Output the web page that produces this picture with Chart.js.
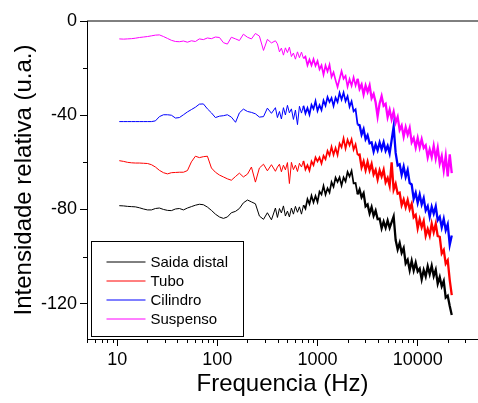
<!DOCTYPE html>
<html>
<head>
<meta charset="utf-8">
<script src="https://cdn.jsdelivr.net/npm/chart.js@4/dist/chart.umd.min.js"></script>
<style>
  body { margin: 0; background: #fff; }
  canvas { display: block; }
</style>
</head>
<body>
<canvas id="espectro" width="478" height="403"></canvas>
<script>
// frequencias (Hz) comuns as quatro curvas
const freqHz = [10.5, 11.6, 12.7, 13.9, 15.2, 16.7, 18.3, 20.1, 22, 24.1,
  26.4, 29, 31.8, 34.8, 38.2, 41.8, 45.9, 50.3, 55.1, 60.4,
  66.2, 72.6, 79.6, 87.3, 95.7, 105, 115, 126, 138, 152,
  166, 182, 200, 219, 240, 263, 289, 316, 347, 380,
  398, 417, 436, 457, 478, 501, 524, 549, 575, 602,
  631, 660, 692, 724, 758, 794, 831, 871, 912, 955,
  1000, 1047, 1096, 1148, 1202, 1259, 1318, 1380, 1445, 1514,
  1585, 1660, 1738, 1820, 1905, 1995, 2089, 2188, 2291, 2399,
  2512, 2630, 2754, 2884, 3020, 3162, 3311, 3467, 3631, 3802,
  3981, 4169, 4365, 4571, 4786, 5012, 5248, 5495, 5754, 6026,
  6310, 6607, 6918, 7244, 7586, 7943, 8318, 8710, 9120, 9550,
  10000, 10470, 10960, 11480, 12020, 12590, 13180, 13800, 14450, 15140,
  15850, 16600, 17380, 18200, 19050, 19950, 20890, 21880];

const saidaDistal = [-78.4, -78.5, -78.7, -78.8, -78.9, -79.3, -79.8, -80.2, -80.2, -79.6,
  -79.4, -80.0, -80.4, -80.5, -79.8, -79.6, -80.2, -79.4, -78.8, -78.2,
  -77.8, -78.0, -79.0, -80.4, -82.0, -83.2, -83.8, -83.2, -81.4, -80.8,
  -79.6, -77.2, -76.0, -76.8, -77.6, -82.8, -84.2, -81.4, -84.4, -79.4,
  -83.4, -79.6, -81.5, -78.5, -82.8, -80.7, -83.2, -79.4, -82.0, -78.7,
  -81.2, -78.9, -82.0, -78.2, -79.7, -75.6, -77.7, -74.2, -77.0, -74.3,
  -76.8, -72.4, -73.6, -70.0, -73.7, -71.0, -72.8, -68.4, -70.4, -66.5,
  -68.3, -66.4, -69.8, -66.4, -68.1, -64.1, -66.0, -63.6, -68.9, -68.8,
  -73.6, -71.6, -74.8, -73.1, -78.7, -77.9, -81.7, -79.0, -82.7, -80.5,
  -84.1, -83.9, -88.0, -85.2, -87.8, -84.7, -87.8, -85.4, -83.0, -93.0,
  -97.0, -94.2, -98.4, -96.4, -102.9, -101.4, -105.8, -101.8, -105.9, -102.6,
  -106.3, -105.1, -109.7, -105.7, -108.5, -104.1, -107.5, -103.9, -108.3, -105.6,
  -111.5, -108.7, -112.6, -110.4, -117.4, -116.6, -121.0, -124.8];

const tubo = [-59.3, -59.6, -60.0, -60.2, -60.3, -60.3, -60.4, -60.5, -61.0, -62.0,
  -63.4, -64.4, -64.9, -64.4, -64.3, -64.2, -64.2, -63.5, -59.8, -57.4,
  -58.0, -57.6, -57.4, -62.4, -64.2, -65.4, -66.2, -67.0, -67.6, -66.0,
  -64.6, -66.2, -65.0, -62.0, -68.4, -62.4, -60.8, -63.6, -61.0, -63.8,
  -62.0, -60.8, -64.0, -61.2, -63.2, -60.1, -69.0, -60.0, -63.1, -61.2,
  -63.9, -60.4, -62.0, -59.4, -63.0, -61.2, -63.5, -59.6, -61.2, -57.9,
  -59.6, -57.9, -60.5, -57.2, -58.7, -55.1, -57.0, -53.4, -56.8, -53.9,
  -56.9, -52.0, -53.6, -49.8, -54.1, -50.4, -52.8, -50.2, -54.6, -52.4,
  -56.8, -56.7, -62.1, -59.6, -63.3, -59.8, -63.4, -60.7, -65.1, -63.2,
  -67.2, -63.4, -66.0, -63.2, -68.5, -66.6, -70.0, -60.0, -71.6, -69.1,
  -73.3, -72.9, -78.2, -75.8, -79.1, -76.0, -79.9, -77.6, -83.3, -82.3,
  -88.0, -84.2, -87.6, -84.9, -91.2, -88.3, -91.1, -86.0, -89.7, -86.1,
  -91.3, -91.6, -98.7, -97.2, -103.0, -101.6, -110.0, -116.4];

const cilindro = [-42.7, -42.7, -42.7, -42.7, -42.7, -42.7, -42.7, -42.7, -42.7, -42.4,
  -40.6, -39.8, -39.8, -40.0, -41.2, -41.0, -39.8, -38.6, -37.6, -36.6,
  -35.3, -35.2, -37.3, -39.0, -41.0, -40.4, -40.2, -39.8, -40.8, -43.0,
  -39.0, -37.4, -38.4, -38.8, -39.4, -40.8, -40.6, -37.0, -39.2, -36.8,
  -41.0, -38.4, -41.6, -36.8, -39.9, -35.8, -39.0, -37.3, -41.8, -37.8,
  -44.0, -36.2, -39.1, -36.0, -39.2, -36.9, -39.7, -35.6, -37.3, -34.0,
  -38.1, -35.7, -37.8, -33.7, -35.9, -32.3, -34.4, -32.7, -36.1, -32.5,
  -34.4, -30.5, -33.3, -30.4, -34.0, -31.9, -36.4, -34.1, -38.3, -37.5,
  -44.0, -44.2, -48.2, -45.9, -50.2, -48.5, -51.9, -51.5, -55.4, -52.4,
  -54.9, -51.6, -54.4, -51.5, -55.1, -53.0, -56.2, -50.6, -44.8, -56.0,
  -61.3, -60.8, -65.3, -61.8, -66.2, -63.3, -68.8, -69.4, -75.5, -72.9,
  -77.2, -73.7, -77.9, -75.2, -80.4, -78.6, -83.1, -78.9, -81.8, -78.7,
  -84.6, -83.2, -87.6, -84.0, -88.8, -86.3, -95.0, -91.1];

const suspenso = [-7.6, -7.7, -7.6, -7.5, -7.3, -7.0, -6.8, -6.6, -6.3, -6.0,
  -5.9, -6.6, -7.4, -8.2, -8.7, -8.8, -8.5, -9.0, -8.4, -8.7,
  -7.6, -7.9, -7.2, -7.5, -6.8, -7.0, -9.2, -9.8, -6.9, -7.6,
  -8.3, -5.6, -6.9, -7.6, -5.3, -6.4, -12.5, -7.8, -9.3, -8.4,
  -9.7, -13.1, -11.5, -14.5, -11.4, -13.4, -11.1, -15.1, -13.6, -16.2,
  -13.1, -15.6, -13.2, -15.9, -15.1, -18.8, -16.4, -18.8, -16.2, -19.0,
  -17.0, -20.5, -18.8, -22.8, -18.9, -21.4, -18.6, -23.8, -21.8, -25.1,
  -28.0, -24.6, -21.3, -24.5, -23.3, -27.9, -24.7, -27.5, -23.9, -27.4,
  -24.5, -28.8, -27.0, -31.1, -27.4, -30.1, -27.4, -32.8, -31.0, -34.5,
  -40.5, -35.0, -31.9, -36.0, -35.2, -40.8, -37.7, -41.7, -38.5, -43.1,
  -40.7, -46.3, -44.4, -49.1, -45.1, -48.3, -45.4, -51.5, -49.7, -53.7,
  -49.7, -53.7, -50.2, -53.9, -52.8, -57.9, -54.5, -57.8, -53.0, -58.3,
  -53.9, -60.5, -57.3, -63.4, -57.3, -66.0, -56.6, -64.6];

const seriesNames = ["Saida distal", "Tubo", "Cilindro", "Suspenso"];
const seriesColors = ["#000000", "#ff0000", "#0000ff", "#ff00ff"];
const xTicks = [10, 100, 1000, 10000];
const yTicks = [0, -40, -80, -120];
const yMinor = [-20, -60, -100];

const fontFamily = "'Liberation Sans', Arial, sans-serif";

function toPoints(vals) {
  return freqHz.map((f, i) => ({ x: f, y: vals[i] }));
}

// espessura do traco: o ruido de alta frequencia aparece como faixa cheia
function noiseWidth(ctx) {
  const f = ctx.p0.parsed.x;
  if (f >= 2500) return 2.3;
  if (f >= 700) return 1.7;
  return 1;
}

// ticks menores, linha superior e legenda dentro do grafico
const extras = {
  id: "extras",
  afterDraw(chart) {
    const ctx = chart.ctx;
    const area = chart.chartArea;
    const xs = chart.scales.x;
    const ys = chart.scales.y;
    ctx.save();
    ctx.strokeStyle = "#000";
    ctx.lineWidth = 1;

    ctx.beginPath();
    ctx.moveTo(area.left, area.top);
    ctx.lineTo(area.right, area.top);
    ctx.stroke();

    ctx.beginPath();
    [1, 10, 100, 1000, 10000].forEach(function (d) {
      for (let m = 2; m <= 9; m++) {
        const v = m * d;
        if (v < xs.min || v > xs.max) continue;
        const px = Math.round(xs.getPixelForValue(v)) + 0.5;
        ctx.moveTo(px, area.bottom);
        ctx.lineTo(px, area.bottom + 4);
      }
    });
    yMinor.forEach(function (v) {
      const py = Math.round(ys.getPixelForValue(v)) + 0.5;
      ctx.moveTo(area.left, py);
      ctx.lineTo(area.left - 4, py);
    });
    ctx.stroke();

    // legenda
    const bx = area.left + 4.5, by = area.bottom - 97.5, bw = 152, bh = 95;
    ctx.fillStyle = "#fff";
    ctx.fillRect(bx, by, bw, bh);
    ctx.strokeRect(bx, by, bw, bh);
    ctx.font = "15px " + fontFamily;
    ctx.textBaseline = "middle";
    chart.data.datasets.forEach(function (ds, i) {
      const ry = by + 20 + i * 19;
      ctx.strokeStyle = ds.borderColor;
      ctx.beginPath();
      ctx.moveTo(bx + 15, ry + 0.5);
      ctx.lineTo(bx + 54, ry + 0.5);
      ctx.stroke();
      ctx.fillStyle = "#000";
      ctx.fillText(ds.label, bx + 59, ry + 1);
    });
    ctx.restore();
  }
};

const datasets = [saidaDistal, tubo, cilindro, suspenso].map(function (vals, i) {
  return {
    label: seriesNames[i],
    data: toPoints(vals),
    borderColor: seriesColors[i],
    borderWidth: 1,
    pointRadius: 0,
    tension: 0,
    fill: false,
    segment: { borderWidth: noiseWidth }
  };
});

new Chart(document.getElementById("espectro"), {
  type: "line",
  data: { datasets: datasets },
  plugins: [extras],
  options: {
    responsive: false,
    animation: false,
    layout: { padding: { top: 21, right: 0, left: 0, bottom: 0 } },
    plugins: { legend: { display: false }, tooltip: { enabled: false } },
    scales: {
      x: {
        type: "logarithmic",
        min: 5,
        max: 40000,
        afterFit: function (axis) { axis.height = 64; },
        afterBuildTicks: function (axis) {
          axis.ticks = xTicks.map(v => ({ value: v }));
        },
        ticks: {
          color: "#000",
          padding: 3,
          maxRotation: 0,
          autoSkip: false,
          font: { family: fontFamily, size: 18 },
          callback: v => String(v)
        },
        grid: { display: true, drawOnChartArea: false, drawTicks: true, tickLength: 7, color: "#000" },
        border: { display: true, color: "#000", width: 1 },
        title: {
          display: true,
          text: "Frequencia (Hz)",
          color: "#000",
          font: { family: fontFamily, size: 24 },
          padding: { top: 0, bottom: 4 }
        }
      },
      y: {
        min: -135,
        max: 0,
        afterFit: function (axis) { axis.width = 87; },
        afterBuildTicks: function (axis) {
          axis.ticks = yTicks.map(v => ({ value: v }));
        },
        ticks: {
          color: "#000",
          padding: 3,
          font: { family: fontFamily, size: 18 },
          callback: v => String(v)
        },
        grid: { display: true, drawOnChartArea: false, drawTicks: true, tickLength: 7, color: "#000" },
        border: { display: true, color: "#000", width: 1 },
        title: {
          display: true,
          text: "Intensidade relativa (u.a.)",
          color: "#000",
          font: { family: fontFamily, size: 24 },
          padding: { top: 10, bottom: 0 }
        }
      }
    }
  }
});
</script>
</body>
</html>
